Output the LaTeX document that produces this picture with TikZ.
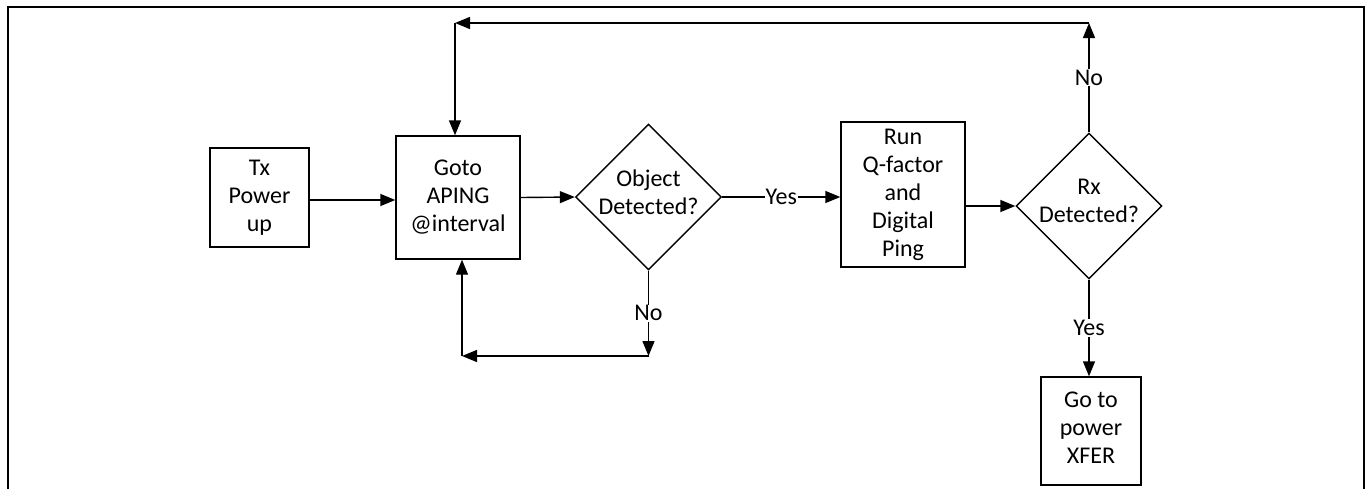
\documentclass[tikz,border=0pt]{standalone}
\usepackage{fontspec}
\setmainfont{Carlito}
\usetikzlibrary{arrows.meta,shapes.geometric}
\begin{document}
\begin{tikzpicture}[x=1pt,y=-1pt,
  every node/.style={font=\fontsize{24}{28}\selectfont, align=center},
  box/.style={draw, line width=1.4pt, inner sep=0pt},
  dia/.style={draw, diamond, line width=1.4pt, minimum width=146pt, minimum height=146pt, inner sep=0pt},
  lbl/.style={fill=white, inner sep=1pt},
  arr/.style={line width=1.4pt, -{Triangle[length=15pt,width=12pt]}},
  frame/.style={line width=2pt}]
\useasboundingbox (0,0) rectangle (1368,488);
\draw[frame] (8,490) -- (8,7) -- (1364,7) -- (1364,490);

\node[box, minimum width=99pt, minimum height=99pt] (tx) at (259.5,197.5) {Tx\\Power\\up};
\node[box, minimum width=124pt, minimum height=123pt] (goto) at (458,197.5) {Goto\\APING\\@interval};
\node[dia] (obj) at (648.5,197) {};
\node (objtext) at ([yshift=5pt]obj.center) {Object\\Detected?};
\node[box, minimum width=124pt, minimum height=145pt] (run) at (903,194.5) {Run\\Q-factor\\and\\Digital\\Ping};
\node[dia] (rx) at (1089,206) {};
\node (rxtext) at ([yshift=5pt]rx.center) {Rx\\Detected?};
\node[box, minimum width=100pt, minimum height=108pt] (xfer) at (1091,431) {};
\node (xfertext) at ([yshift=3pt]xfer.center) {Go to\\power\\XFER};

\coordinate (c1) at (651,356);
\coordinate (c2) at (462,356);
\coordinate (c3) at (1089,23);
\coordinate (c4) at (455,23);

\draw[arr] (tx.east |- 0,200) -- (goto.west |- 0,200);
\draw[arr] (goto.east) -- (obj.west);
\draw[arr] (obj.east) -- node[lbl]{Yes} (obj.east -| run.west);
\draw[arr] (run.east |- rx.west) -- (rx.west);
\draw[arr] (rx.south) -- node[lbl]{Yes} (rx.south |- xfer.north);
\draw[arr] (obj.south) -- node[lbl]{No} (obj.south |- c1);
\draw[arr] (obj.south |- c1) -- (c2);
\draw[arr] (c2) -- (c2 |- goto.south);
\draw[arr] (rx.north) -- node[lbl]{No} (rx.north |- c3);
\draw[arr] (rx.north |- c3) -- (c4);
\draw[arr] (c4) -- (c4 |- goto.north);
\end{tikzpicture}
\end{document}
